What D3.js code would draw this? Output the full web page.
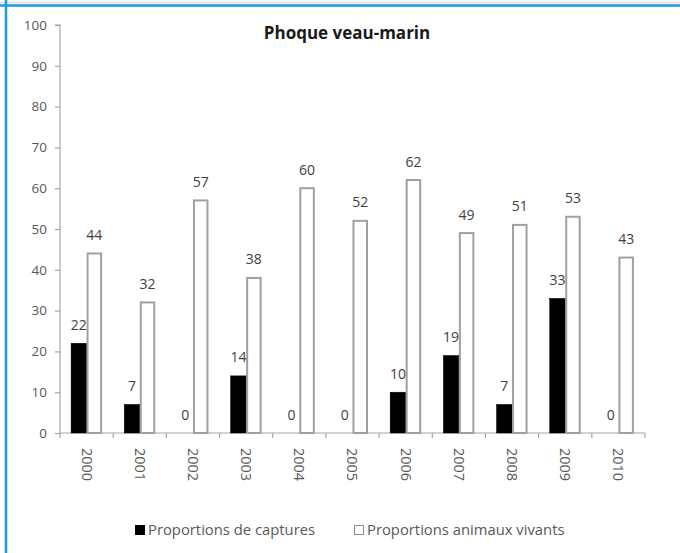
<!DOCTYPE html>
<html>
<head>
<meta charset="utf-8">
<script src="https://cdn.jsdelivr.net/npm/d3@7"></script>
<style>
  html, body { margin: 0; padding: 0; background: #fff; }
  svg { display: block; }
</style>
</head>
<body>
<svg id="chart" width="680" height="553"></svg>
<script>
// Years shown along the horizontal axis
const years = ["2000", "2001", "2002", "2003", "2004", "2005", "2006", "2007", "2008", "2009", "2010"];
// Series values (percent)
const captures = [22, 7, 0, 14, 0, 0, 10, 19, 7, 33, 0];
const vivants = [44, 32, 57, 38, 60, 52, 62, 49, 51, 53, 43];
const seriesNames = ["Proportions de captures", "Proportions animaux vivants"];
const yTicks = [0, 10, 20, 30, 40, 50, 60, 70, 80, 90, 100];
const title = "Phoque veau-marin";

const svg = d3.select("#chart");
const W = 680, H = 553;
const FONT = "'Open Sans', 'DejaVu Sans', sans-serif";

// Frame lines at the top and left edge
svg.append("line").attr("x1", 0).attr("x2", W).attr("y1", 2.5).attr("y2", 2.5)
  .attr("stroke", "#e2e2e2").attr("stroke-width", 2);
svg.append("line").attr("x1", 0).attr("x2", W).attr("y1", 5.5).attr("y2", 5.5)
  .attr("stroke", "#1a9be2").attr("stroke-width", 2.5);
svg.append("line").attr("x1", 6).attr("x2", 6).attr("y1", 0).attr("y2", H)
  .attr("stroke", "#1a9be2").attr("stroke-width", 2.5);

const plot = { left: 60, right: 645, top: 25, bottom: 433 };

const y = d3.scaleLinear().domain([0, 100]).range([plot.bottom, plot.top]);
const x0 = d3.scaleBand().domain(years).range([plot.left, plot.right])
  .paddingInner(0.417).paddingOuter(0.2085);
const x1 = d3.scaleBand().domain(seriesNames).range([0, x0.bandwidth()]);
const step = x0.step();

const rows = years.map((yr, i) => ({ year: yr, values: [captures[i], vivants[i]] }));

// Y axis
const yAxis = d3.axisLeft(y).tickValues(yTicks).tickSize(5).tickPadding(8);
const gy = svg.append("g").attr("transform", `translate(${plot.left},0)`).call(yAxis);
gy.select(".domain").attr("stroke", "#a6a6a6").attr("stroke-width", 1.2)
  .attr("d", `M-5,${plot.top}H0V${plot.bottom}`);
gy.selectAll(".tick line").attr("stroke", "#a6a6a6").attr("stroke-width", 1.2);
gy.selectAll(".tick text").attr("font-family", FONT).attr("font-size", 13.5)
  .attr("fill", "#595959");

// X axis (ticks sit between categories)
const gx = svg.append("g").attr("transform", `translate(0,${plot.bottom})`);
gx.append("line").attr("x1", plot.left).attr("x2", plot.right)
  .attr("stroke", "#a6a6a6").attr("stroke-width", 1.2);
const boundaries = d3.range(years.length + 1).map(i => plot.left + i * step);
gx.selectAll("line.tk").data(boundaries).join("line").attr("class", "tk")
  .attr("x1", d => d).attr("x2", d => d).attr("y1", 0).attr("y2", 5)
  .attr("stroke", "#a6a6a6").attr("stroke-width", 1.2);
gx.selectAll("text.yr").data(years).join("text").attr("class", "yr")
  .attr("transform", d => `translate(${x0(d) + x0.bandwidth() / 2},15) rotate(90)`)
  .attr("dy", "0.35em")
  .attr("font-family", FONT).attr("font-size", 14.5).attr("fill", "#595959")
  .text(d => d);

// Bars
const fills = ["#000000", "#ffffff"];
const strokes = ["#000000", "#a0a0a0"];
const groups = svg.append("g").selectAll("g").data(rows).join("g")
  .attr("transform", d => `translate(${x0(d.year)},0)`);

groups.selectAll("rect").data(d => d.values.map((v, k) => ({ v, k })))
  .join("rect")
  .filter(d => d.v > 0)
  .attr("x", d => x1(seriesNames[d.k]) + (d.k === 1 ? 1 : 0))
  .attr("width", d => x1.bandwidth() - (d.k === 1 ? 2 : 0))
  .attr("y", d => y(d.v))
  .attr("height", d => y(0) - y(d.v))
  .attr("fill", d => fills[d.k])
  .attr("stroke", d => strokes[d.k])
  .attr("stroke-width", d => d.k === 1 ? 2 : 0.5);

// Value labels
groups.selectAll("text").data(d => d.values.map((v, k) => ({ v, k })))
  .join("text")
  .attr("x", d => x1(seriesNames[d.k]) + x1.bandwidth() / 2)
  .attr("y", d => y(d.v) - 13.5)
  .attr("text-anchor", "middle")
  .attr("font-family", FONT).attr("font-size", 14).attr("fill", "#404040")
  .text(d => d.v);

// Title
svg.append("text").attr("x", 347).attr("y", 39).attr("text-anchor", "middle")
  .attr("font-family", FONT).attr("font-weight", "bold").attr("font-size", 17)
  .attr("fill", "#1a1a1a").text(title);

// Legend
const legendItems = [
  { name: seriesNames[0], x: 135, fill: "#000000", stroke: "#000000" },
  { name: seriesNames[1], x: 354, fill: "#ffffff", stroke: "#8c8c8c" }
];
const lg = svg.append("g").selectAll("g").data(legendItems).join("g")
  .attr("transform", d => `translate(${d.x},525)`);
lg.append("rect").attr("x", 0.5).attr("y", 0.5).attr("width", 9).attr("height", 9)
  .attr("fill", d => d.fill).attr("stroke", d => d.stroke).attr("stroke-width", 1);
lg.append("text").attr("x", 13).attr("y", 5).attr("dy", "0.35em")
  .attr("font-family", FONT).attr("font-size", 14.8).attr("fill", "#595959")
  .text(d => d.name);
</script>
</body>
</html>
